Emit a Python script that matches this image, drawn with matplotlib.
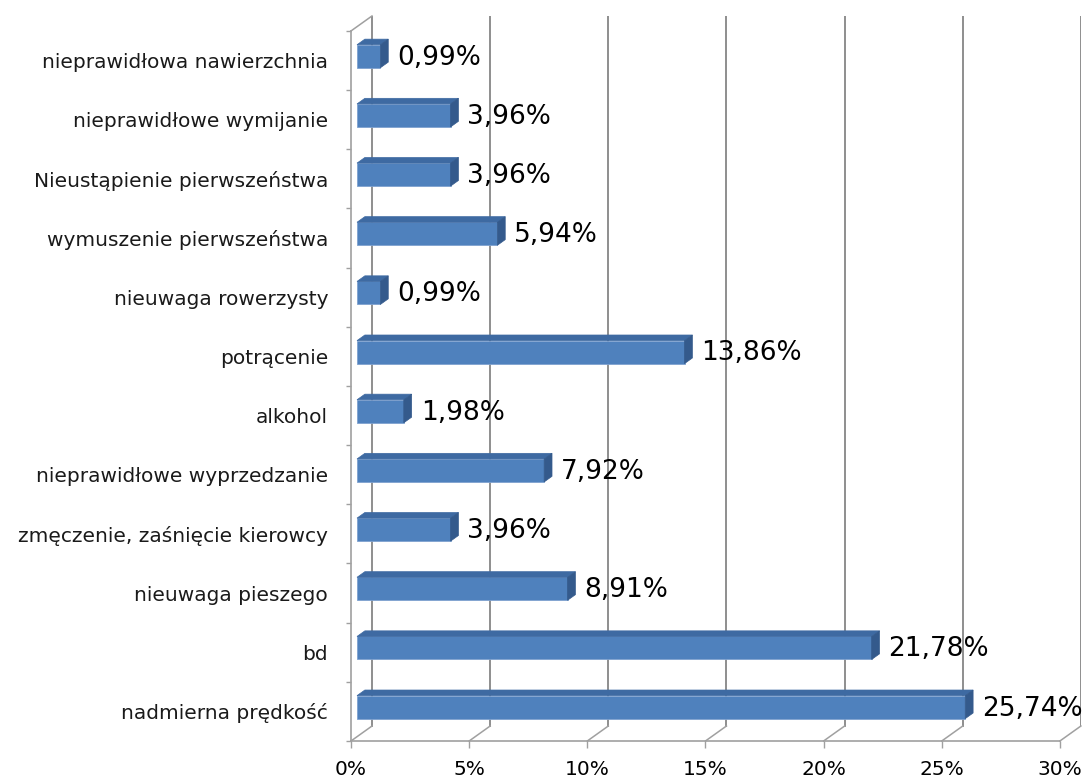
#!/usr/bin/env python3
# -*- coding: utf-8 -*-

import matplotlib
matplotlib.use('Agg')
import matplotlib.pyplot as plt
from matplotlib.patches import Polygon

# Categories listed bottom to top, shares in percent
categories = ['nadmierna prędkość', 'bd', 'nieuwaga pieszego',
              'zmęczenie, zaśnięcie kierowcy', 'nieprawidłowe wyprzedzanie',
              'alkohol', 'potrącenie', 'nieuwaga rowerzysty',
              'wymuszenie pierwszeństwa', 'Nieustąpienie pierwszeństwa',
              'nieprawidłowe wymijanie', 'nieprawidłowa nawierzchnia']
values = [25.74, 21.78, 8.91, 3.96, 7.92, 1.98, 13.86, 0.99, 5.94, 3.96, 3.96, 0.99]
xticks = [0, 5, 10, 15, 20, 25, 30]

plt.rcParams['font.family'] = ['DejaVu Sans']

W, H = 1083, 778
PX_PER_PCT = 23.63
PX_PER_CAT = 59.17
DX = 21 / PX_PER_PCT   # depth offset in x data units
DY = 15 / PX_PER_CAT   # depth offset in y data units
z0, z1 = 0.286, 0.66   # front / back face depth of bars
BAR_H = 23 / PX_PER_CAT

front = '#4F81BD'
top = '#3E6AA2'
side = '#345A8C'
grid = '#868686'
axis_col = '#A0A0A0'

fig = plt.figure(figsize=(W / 100, H / 100), dpi=100)
n = len(categories)
ax_w = 30 * PX_PER_PCT + 21
ax_h = n * PX_PER_CAT + 15
ax = fig.add_axes([351 / W, 37 / H, ax_w / W, ax_h / H])
ax.set_xlim(0, 30 + DX)
ax.set_ylim(0, n + DY)
for s in ax.spines.values():
    s.set_visible(False)

# walls and floor
for g in xticks:
    ax.plot([g + DX, g + DX], [DY, n + DY], color=grid, lw=1.3, zorder=1)
    ax.plot([g, g + DX], [0, DY], color=axis_col, lw=1.1, zorder=1, clip_on=False)
ax.plot([0, 30], [0, 0], color=axis_col, lw=1.2, zorder=1, clip_on=False)
ax.plot([0, 0], [0, n], color=axis_col, lw=1.2, zorder=1, clip_on=False)
ax.plot([0, DX], [n, n + DY], color=axis_col, lw=1.1, zorder=1, clip_on=False)

# 3d bars
d = (z1 - z0) * DX
e = (z1 - z0) * DY
for i, v in enumerate(values):
    yc = i + 0.5 + z0 * DY
    x0 = z0 * DX
    ax.barh(yc, v, left=x0, height=BAR_H, color=front,
            edgecolor='#7FA2CF', linewidth=0.6, zorder=3)
    yt = yc + BAR_H / 2
    yb = yc - BAR_H / 2
    ax.add_patch(Polygon([(x0, yt), (x0 + v, yt), (x0 + v + d, yt + e), (x0 + d, yt + e)],
                         closed=True, facecolor=top, edgecolor=top, lw=0.5, zorder=3))
    ax.add_patch(Polygon([(x0 + v, yb), (x0 + v + d, yb + e), (x0 + v + d, yt + e), (x0 + v, yt)],
                         closed=True, facecolor=side, edgecolor=side, lw=0.5, zorder=3))
    label = '{:.2f}%'.format(v).replace('.', ',')
    ax.annotate(label, (x0 + v + d, yc), xytext=(6.5, -1), textcoords='offset points',
                ha='left', va='center', fontsize=19, color='black', zorder=5,
                annotation_clip=False)

ax.set_xticks(xticks)
ax.set_xticklabels(['{}%'.format(t) for t in xticks], fontsize=14.5)
ax.tick_params(axis='x', length=5, width=1, color=axis_col, pad=8.5)

ax.set_yticks([i + 0.5 for i in range(n)])
ax.set_yticklabels(categories, fontsize=14.5, color='#1a1a1a')
ax.set_yticks(range(n + 1), minor=True)
ax.tick_params(axis='y', which='major', length=0, pad=16.5)
ax.tick_params(axis='y', which='minor', length=3.6, width=1, color=axis_col)

plt.savefig('out.png', dpi=100)
